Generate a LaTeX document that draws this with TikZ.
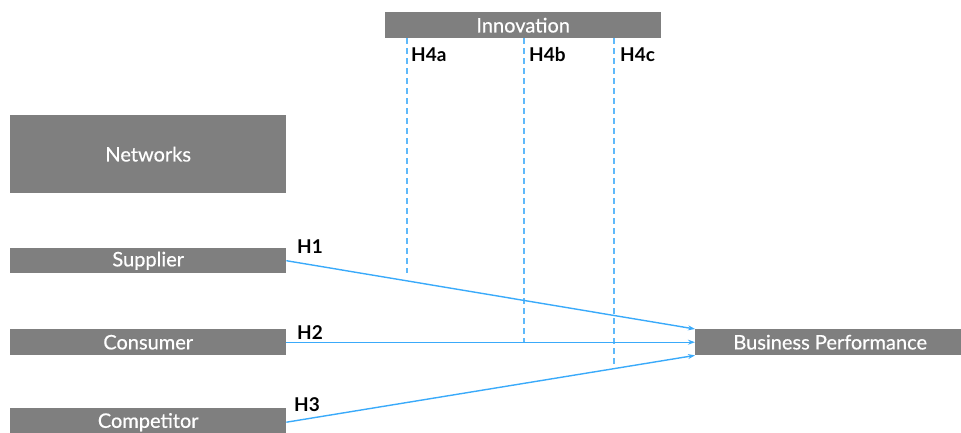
\documentclass[tikz,border=0pt]{standalone}
\usepackage{fontspec}
\setmainfont{Lato}
\newfontfamily\boxfont[FakeBold=0.5]{Lato}
\usetikzlibrary{arrows.meta}
\definecolor{boxgray}{RGB}{127,127,127}
\definecolor{linkblue}{RGB}{58,170,250}
\definecolor{dashblue}{RGB}{95,185,250}
\begin{document}
\begin{tikzpicture}[x=1pt,y=-1pt,
    box/.style={fill=boxgray, text=white, inner sep=0pt, anchor=north west,
        minimum width=276pt, minimum height=26pt, font=\boxfont\fontsize{20}{20}\selectfont},
    link/.style={draw=linkblue, line width=1.4pt, -{Stealth[length=7pt,width=5pt]}},
    hyp/.style={draw=dashblue, line width=1.1pt, dash pattern=on 6pt off 4pt},
    hlabel/.style={anchor=west, inner sep=0pt, font=\fontsize{19}{19}\selectfont\bfseries}]
    \clip (0,0) rectangle (961,432);
    \useasboundingbox (0,0) rectangle (961,432);

    % boxes
    \node[box] (inno) at (385,12) {Innovation};
    \node[box, minimum height=78pt] (net) at (10,115) {Networks};
    \node[box, minimum height=25pt] (sup) at (10,248) {Supplier};
    \node[box] (con) at (10,329) {Consumer};
    \node[box, minimum height=28pt] (comp) at (10,408) {Competitor};
    \node[box, minimum width=270pt] (perf) at (695,329) {Business Performance};

    % moderation lines
    \coordinate (h4a) at (407,273);
    \coordinate (h4b) at (524,343);
    \coordinate (h4c) at (614,368);
    \draw[hyp] (inno.south -| h4a) -- (h4a);
    \draw[hyp] (inno.south -| h4b) -- (h4b);
    \draw[hyp] (inno.south -| h4c) -- (h4c);
    \node[hlabel] (la) at (411,55) {H4a};
    \node[hlabel] (lb) at (529,55) {H4b};
    \node[hlabel] (lc) at (620,55) {H4c};

    % direct effects
    \draw[link] (sup.east) -- (perf.north west);
    \draw[link] (con.east) -- (perf.west);
    \draw[link] (comp.east) -- (perf.south west);
    \node[hlabel] (l1) at (297,247) {H1};
    \node[hlabel] (l2) at (297,333) {H2};
    \node[hlabel] (l3) at (294,405) {H3};
\end{tikzpicture}
\end{document}
